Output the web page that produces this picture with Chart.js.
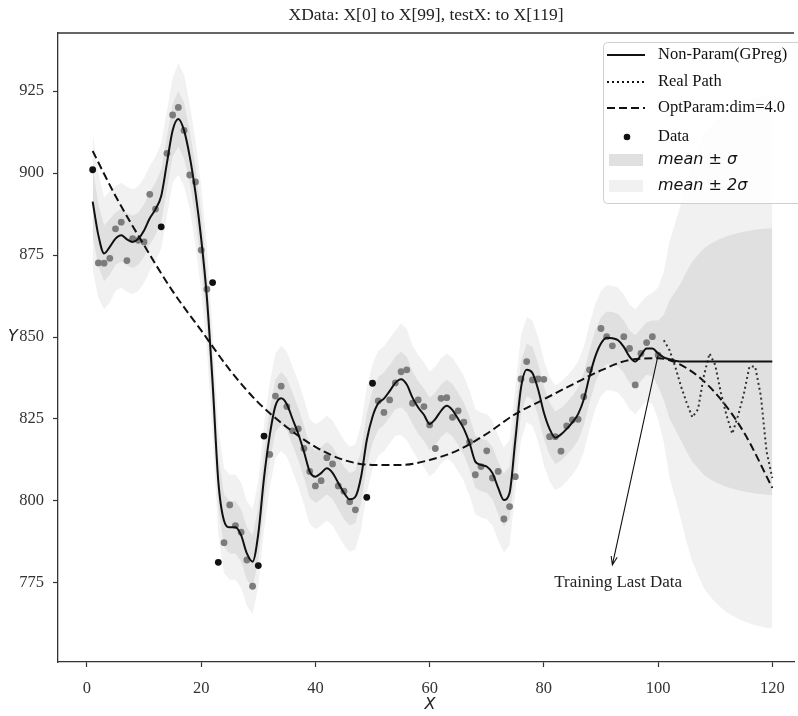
<!DOCTYPE html>
<html>
<head>
<meta charset="utf-8">
<script src="https://cdn.jsdelivr.net/npm/chart.js@4.4.0/dist/chart.umd.min.js"></script>
<style>
  html, body { margin: 0; padding: 0; background: #fff; }
  canvas { display: block; }
</style>
</head>
<body>
<canvas id="gp-chart" width="798" height="716"></canvas>
<script>
// training data (X, Y)
var trainX = [1, 2, 3, 4, 5, 6, 7, 8, 9, 10, 11, 12, 13, 14, 15, 16, 17, 18, 19, 20,
    21, 22, 23, 24, 25, 26, 27, 28, 29, 30, 31, 32, 33, 34, 35, 36, 37, 38, 39, 40,
    41, 42, 43, 44, 45, 46, 47, 49, 50, 51, 52, 53, 54, 55, 56, 57, 58, 59, 60,
    61, 62, 63, 64, 65, 66, 67, 68, 69, 70, 71, 72, 73, 74, 75, 76, 77, 78, 79, 80,
    81, 82, 83, 84, 85, 86, 87, 88, 90, 91, 92, 94, 95, 96, 97, 98, 99, 100];
var trainY = [901, 872.6, 872.5, 874, 883, 885, 873.3, 880, 879.5, 879, 893.5, 889, 883.6, 906, 917.7, 920, 913, 899.4, 897.3, 876.5,
    864.6, 866.6, 781.3, 787.3, 798.8, 792.5, 790.5, 782, 774, 780.3, 819.8, 814.2, 832, 835, 828.8, 821.4, 822, 816, 809, 804.6,
    806.2, 813.2, 811.3, 804.6, 803, 799.8, 797.3, 801.1, 835.9, 830.5, 827, 830.8, 836, 839.4, 840, 829.8, 830.8, 828.8, 823.2,
    816, 831.3, 831.5, 825.5, 827.5, 824, 818, 808, 810.5, 815.3, 807, 809, 794.5, 798.3, 807.4, 837.2, 842.5, 836.9, 837.2, 837.1,
    819.6, 819.6, 815.2, 822.9, 824.7, 824.9, 831.8, 840, 852.6, 850.1, 847.3, 850.1, 846.5, 835.4, 845, 848.3, 850.1, 844.5];
// the dots that are drawn black (outside the bands)
var darkX = [1, 13, 22, 23, 30, 31, 49, 50];

// GP prediction at X = 1..120
var meanY = [891.3, 881, 875.5, 877.5, 880, 881, 879.8, 879, 880, 882.5,
    886.2, 889, 893, 903, 913, 916.5, 913, 905, 894, 880,
    862, 836, 806, 794, 792, 792, 789.5, 784, 781.5, 790,
    807, 820, 829, 831.3, 829.5, 825, 820.5, 815, 809, 807.4,
    808.5, 810, 808.6, 805.5, 802.5, 800.5, 801.3, 807.4, 818.6, 825.7,
    829.8, 831.2, 833.5, 836, 837.1, 835.5, 831.5, 828.5, 826.3, 823.5,
    825, 827.5, 829, 827.7, 825, 822, 817.6, 812, 811, 810.5,
    808.5, 804, 800.3, 802.5, 818.5, 834.5, 840, 839, 834, 827,
    822, 819.3, 820.3, 822, 824, 826.5, 831, 838, 844, 848,
    849.8, 849.6, 849, 847, 844, 842.5, 844.5, 846.5, 846.5, 845,
    843.8, 843.2, 842.8, 842.5, 842.5, 842.5, 842.5, 842.5, 842.5, 842.5,
    842.5, 842.5, 842.5, 842.5, 842.5, 842.5, 842.5, 842.5, 842.5, 842.5];
var sigma = [10.5, 9.5, 8.5, 8.5, 8, 8, 8, 8, 8, 8,
    8, 8, 8, 8, 8, 8.5, 8.5, 8, 8, 8,
    8, 8, 8, 8, 8, 8, 8, 8, 8, 8,
    8, 8, 8, 8, 8, 8, 8, 8, 8, 8,
    8, 8, 8, 8, 8, 8, 8, 8, 8, 8,
    8, 8, 8, 8, 8.5, 8.5, 8, 8, 8, 8,
    8, 8, 8, 8, 8, 8, 8, 8, 8, 8,
    8, 8, 8, 8, 8, 8, 8, 8, 8, 8,
    8, 8, 8, 8, 8, 8, 8, 8, 8, 8,
    8, 8, 8, 8, 8, 8, 8, 8, 8.5, 10,
    13, 18, 21, 24, 27.5, 30.5, 32.5, 34.5, 35.7, 36.7,
    37.5, 38.2, 38.7, 39.2, 39.6, 39.9, 40.2, 40.4, 40.6, 40.7];

// real path for the test part
var realX = [101, 102, 103, 104, 105, 106, 107, 108, 109, 110, 111, 112, 113, 114, 115, 116, 117, 118, 119, 120];
var realY = [849, 846, 841, 835, 830, 825.5, 828, 838, 845, 841.5, 833, 826, 820.5, 826, 832.5, 841, 841, 832, 815, 807];

// degree 4 parametric fit
var optX = [1, 5, 10, 15, 20, 25, 30, 35, 40, 45, 50, 55, 60, 65, 70, 75, 80, 85, 90, 95, 100, 105, 110, 115, 120];
var optY = [906.7, 893, 878, 864, 852, 840, 830, 822.5, 816.5, 812.5, 811, 811, 812.5, 815.5, 820.5, 826.5, 831, 835.5, 839.8, 843, 843.5, 840.5, 833, 821, 804];

var xTicks = [0, 20, 40, 60, 80, 100, 120];
var yTicks = [775, 800, 825, 850, 875, 900, 925];

var legendLabels = ["Non-Param(GPreg)", "Real Path", "OptParam:dim=4.0", "Data", "mean \u00b1 \u03c3", "mean \u00b1 2\u03c3"];
var titleText = "XData: X[0] to X[99], testX: to X[119]";

function pts(xs, ys) {
    return xs.map(function(x, i) { return { x: x, y: ys[i] }; });
}
var gridX = meanY.map(function(v, i) { return i + 1; });
var up2 = meanY.map(function(m, i) { return m + 2 * sigma[i]; });
var lo2 = meanY.map(function(m, i) { return m - 2 * sigma[i]; });
var up1 = meanY.map(function(m, i) { return m + sigma[i]; });
var lo1 = meanY.map(function(m, i) { return m - sigma[i]; });

var serif = "'Liberation Serif', 'DejaVu Serif', serif";
var sans = "'DejaVu Sans', sans-serif";

/* extras: frame, title, axis names, legend, arrow */
var extras = {
    id: "extras",
    afterDraw: function(chart) {
        var ctx = chart.ctx;
        var a = chart.chartArea;
        var xs = chart.scales.x;
        var ys = chart.scales.y;
        ctx.save();

        // top spine
        ctx.strokeStyle = "#333";
        ctx.lineWidth = 1.3;
        ctx.beginPath();
        ctx.moveTo(a.left, a.top);
        ctx.lineTo(a.right, a.top);
        ctx.stroke();

        // title
        ctx.fillStyle = "#222";
        ctx.font = "17.5px " + serif;
        ctx.textAlign = "center";
        ctx.textBaseline = "middle";
        ctx.fillText(titleText, 426, 15);

        // axis names
        ctx.font = "italic 16px " + sans;
        ctx.fillText("X", 430, 705);
        ctx.fillText("Y", 13, ys.getPixelForValue(850));

        // annotation arrow
        var x0 = xs.getPixelForValue(100), y0 = ys.getPixelForValue(844.5);
        var x1 = xs.getPixelForValue(92), y1 = ys.getPixelForValue(780.5);
        ctx.strokeStyle = "#111";
        ctx.lineWidth = 1.1;
        ctx.beginPath();
        ctx.moveTo(x0, y0);
        ctx.lineTo(x1, y1);
        var ang = Math.atan2(y1 - y0, x1 - x0);
        ctx.moveTo(x1 - 9 * Math.cos(ang - 0.35), y1 - 9 * Math.sin(ang - 0.35));
        ctx.lineTo(x1, y1);
        ctx.lineTo(x1 - 9 * Math.cos(ang + 0.35), y1 - 9 * Math.sin(ang + 0.35));
        ctx.stroke();
        ctx.fillStyle = "#222";
        ctx.font = "17px " + serif;
        ctx.fillText("Training Last Data", xs.getPixelForValue(93), ys.getPixelForValue(775));

        // legend box
        ctx.fillStyle = "rgba(255,255,255,0.85)";
        ctx.strokeStyle = "#cfcfcf";
        ctx.lineWidth = 1;
        ctx.beginPath();
        ctx.roundRect(603.5, 42.5, 210, 161, 4);
        ctx.fill();
        ctx.stroke();

        var rows = [55, 82, 108, 137, 160, 186];
        ctx.strokeStyle = "#111";
        ctx.lineWidth = 2;
        ctx.setLineDash([]);
        ctx.beginPath(); ctx.moveTo(607, rows[0]); ctx.lineTo(645, rows[0]); ctx.stroke();
        ctx.setLineDash([2, 3]);
        ctx.beginPath(); ctx.moveTo(607, rows[1]); ctx.lineTo(645, rows[1]); ctx.stroke();
        ctx.setLineDash([8, 4]);
        ctx.beginPath(); ctx.moveTo(607, rows[2]); ctx.lineTo(645, rows[2]); ctx.stroke();
        ctx.setLineDash([]);
        ctx.fillStyle = "#111";
        ctx.beginPath(); ctx.arc(627, rows[3], 3.3, 0, Math.PI * 2); ctx.fill();
        ctx.fillStyle = "#e0e0e0";
        ctx.fillRect(609, rows[4] - 6, 34, 12);
        ctx.fillStyle = "#f1f1f1";
        ctx.fillRect(609, rows[5] - 6, 34, 12);

        ctx.textAlign = "left";
        ctx.fillStyle = "#111";
        for (var i = 0; i < legendLabels.length; i++) {
            ctx.font = i < 4 ? "16.5px " + serif : "italic 16px " + sans;
            ctx.fillText(legendLabels[i], 658, rows[i]);
        }
        ctx.restore();
    }
};

const gpChart = document.querySelector("#gp-chart");

new Chart(gpChart, {
    type: "line",
    data: {
        datasets: [{
            label: "Non-Param(GPreg)",
            data: pts(gridX, meanY),
            borderColor: "#111",
            borderWidth: 2,
            pointRadius: 0,
            cubicInterpolationMode: "monotone",
            fill: false,
            order: 1,
        }, {
            label: "Real Path",
            data: pts(realX, realY),
            borderColor: "#333",
            borderWidth: 2,
            borderDash: [2, 3],
            pointRadius: 0,
            tension: 0,
            fill: false,
            order: 2,
        }, {
            label: "OptParam:dim=4.0",
            data: pts(optX, optY),
            borderColor: "#111",
            borderWidth: 2,
            borderDash: [8, 4],
            pointRadius: 0,
            cubicInterpolationMode: "monotone",
            fill: false,
            order: 3,
        }, {
            label: "Data",
            data: pts(trainX, trainY),
            showLine: false,
            pointRadius: 3.4,
            pointBorderWidth: 0,
            pointBackgroundColor: function(c) {
                return darkX.indexOf(trainX[c.dataIndex]) >= 0 ? "#111" : "#7c7c7c";
            },
            order: 5,
        }, {
            label: "upper1",
            data: pts(gridX, up1),
            borderWidth: 0,
            pointRadius: 0,
            tension: 0,
            backgroundColor: "#e0e0e0",
            fill: "+1",
            order: 8,
        }, {
            label: "lower1",
            data: pts(gridX, lo1),
            borderWidth: 0,
            pointRadius: 0,
            tension: 0,
            fill: false,
            order: 8,
        }, {
            label: "upper2",
            data: pts(gridX, up2),
            borderWidth: 0,
            pointRadius: 0,
            tension: 0,
            backgroundColor: "#f1f1f1",
            fill: "+1",
            order: 9,
        }, {
            label: "lower2",
            data: pts(gridX, lo2),
            borderWidth: 0,
            pointRadius: 0,
            tension: 0,
            fill: false,
            order: 9,
        }, ],
    },
    options: {
        responsive: false,
        animation: false,
        devicePixelRatio: 1,
        layout: {
            padding: { top: 33, right: 0, bottom: 0, left: 0 },
        },
        plugins: {
            legend: { display: false },
            title: { display: false },
            tooltip: { enabled: false },
        },
        scales: {
            x: {
                type: "linear",
                min: -5.07,
                max: 123.8,
                afterBuildTicks: function(s) {
                    s.ticks = xTicks.map(function(v) { return { value: v }; });
                },
                afterFit: function(s) { s.height = 54; },
                grid: {
                    drawOnChartArea: false,
                    drawTicks: true,
                    tickLength: 5,
                    tickColor: "#333",
                    tickWidth: 1.2,
                },
                border: { display: true, color: "#333", width: 1.3 },
                ticks: {
                    font: { family: serif, size: 16.5 },
                    color: "#333",
                    padding: 12,
                    maxRotation: 0,
                },
            },
            y: {
                type: "linear",
                min: 750.9,
                max: 942.7,
                afterBuildTicks: function(s) {
                    s.ticks = yTicks.map(function(v) { return { value: v }; });
                },
                afterFit: function(s) { s.width = 58; },
                grid: {
                    drawOnChartArea: false,
                    drawTicks: true,
                    tickLength: 5,
                    tickColor: "#333",
                    tickWidth: 1.2,
                },
                border: { display: true, color: "#333", width: 1.3 },
                ticks: {
                    font: { family: serif, size: 16.5 },
                    color: "#333",
                    padding: 9,
                },
            },
        },
    },
    plugins: [extras],
});
</script>
</body>
</html>
